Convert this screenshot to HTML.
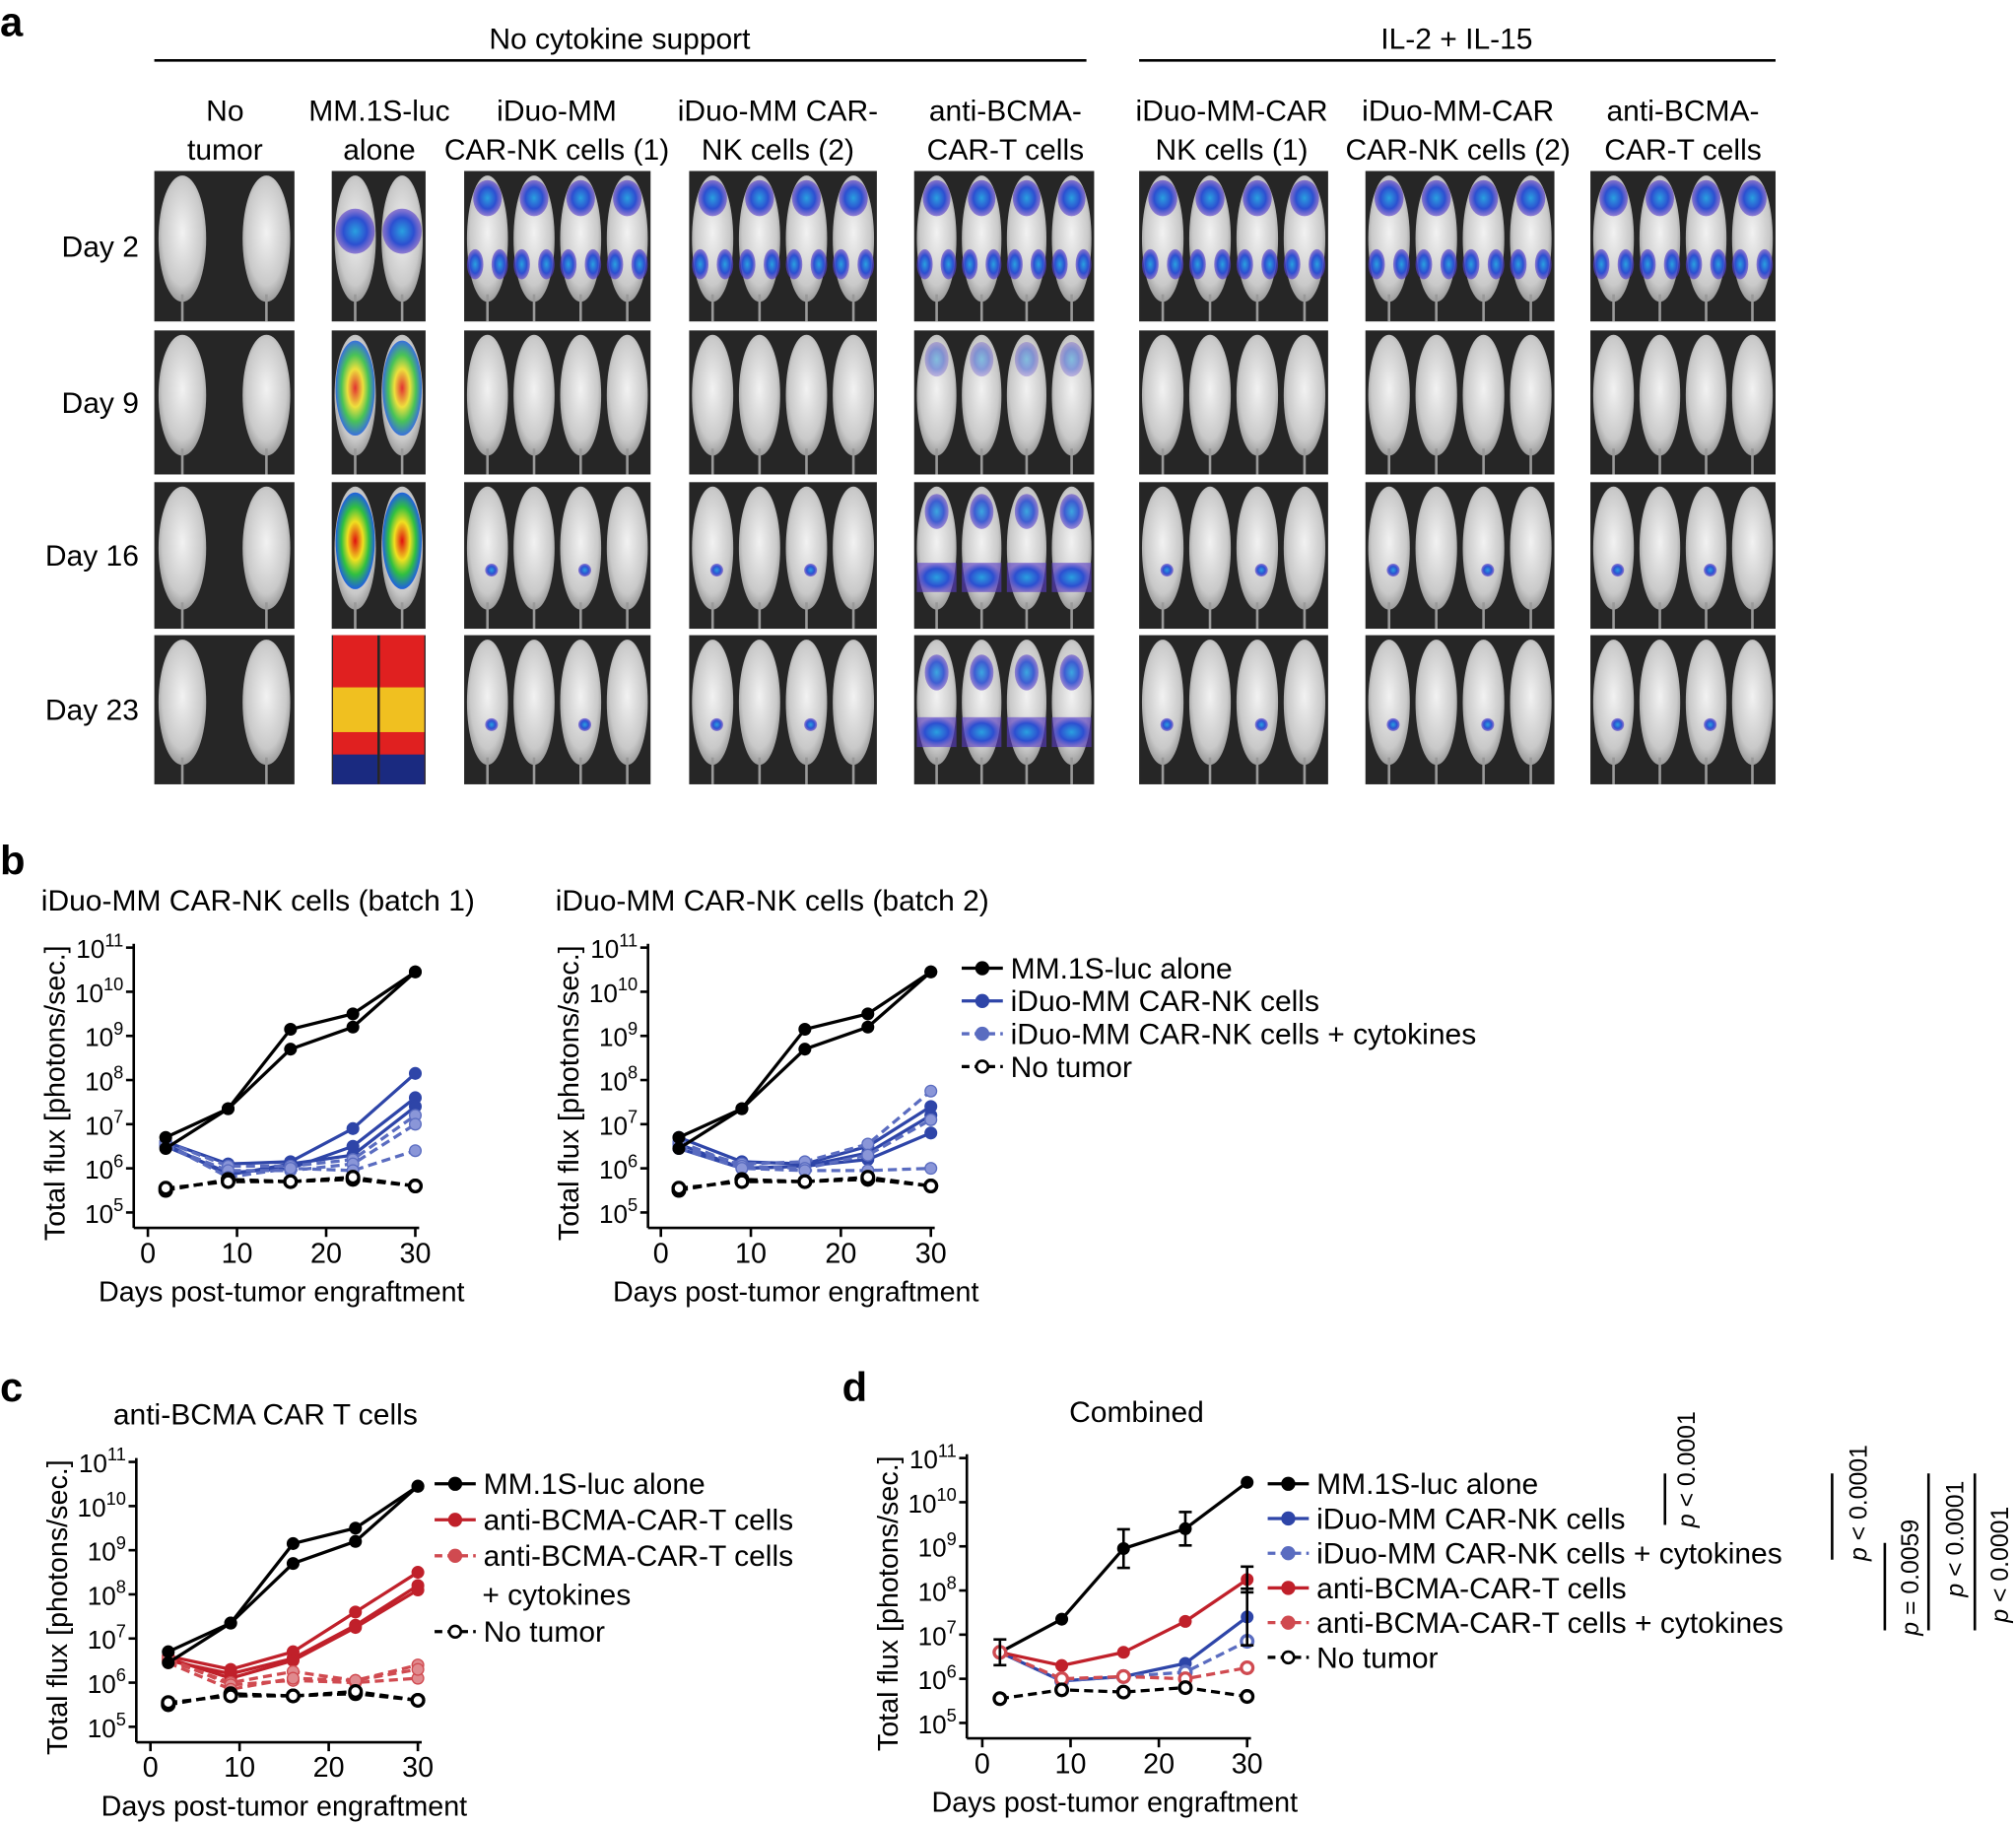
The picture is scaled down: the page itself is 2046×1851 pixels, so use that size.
<!DOCTYPE html>
<html><head><meta charset="utf-8"><style>
html,body{margin:0;padding:0;background:#fff}
svg{display:block}
text{font-family:"Liberation Sans",Arial,sans-serif;fill:#000}
</style></head><body>
<svg id="s" width="2046" height="1851" viewBox="0 0 1568 1418.6" xmlns="http://www.w3.org/2000/svg">
<defs>
<radialGradient id="mg" cx="50%" cy="45%" r="60%"><stop offset="0" stop-color="#f2f2f2"/><stop offset="0.7" stop-color="#c9c9c9"/><stop offset="1" stop-color="#8a8a8a"/></radialGradient>
<radialGradient id="bb" cx="50%" cy="50%" r="50%"><stop offset="0" stop-color="#2aa0e0"/><stop offset="0.6" stop-color="#2c4fd0"/><stop offset="1" stop-color="#5a3cc8" stop-opacity="0.6"/></radialGradient>
<radialGradient id="hot" cx="50%" cy="50%" r="50%"><stop offset="0" stop-color="#e01010"/><stop offset="0.4" stop-color="#f0e020"/><stop offset="0.7" stop-color="#30c040"/><stop offset="1" stop-color="#2060e0"/></radialGradient>
</defs>
<g id="g"></g>
</svg>
<script>
var g=document.getElementById('g'),h='';
function T(x,y,s,sz,anc,extra){h+='<text x="'+x+'" y="'+y+'" font-size="'+(sz||22)+'"'+(anc?' text-anchor="'+anc+'"':'')+(extra||'')+'>'+s+'</text>';}
function L(x1,y1,x2,y2,w,c,d){h+='<line x1="'+x1+'" y1="'+y1+'" x2="'+x2+'" y2="'+y2+'" stroke="'+(c||'#000')+'" stroke-width="'+(w||2)+'"'+(d?' stroke-dasharray="'+d+'"':'')+'/>';}
T(0,28,'a',32,null,' font-weight="bold"');
T(482,38,'No cytokine support',23,'middle');L(120,47,845,47,2);
T(1133,38,'IL-2 + IL-15',23,'middle');L(886,47,1381,47,2);
var cols=[[120,229,2,'No|tumor'],[258,331,2,'MM.1S-luc|alone'],[361,506,4,'iDuo-MM|CAR-NK cells (1)'],[536,682,4,'iDuo-MM CAR-|NK cells (2)'],[711,851,4,'anti-BCMA-|CAR-T cells'],[886,1033,4,'iDuo-MM-CAR|NK cells (1)'],[1062,1209,4,'iDuo-MM-CAR|CAR-NK cells (2)'],[1237,1381,4,'anti-BCMA-|CAR-T cells']];
var rows=[[133,250,'Day 2'],[257,369,'Day 9'],[375,489,'Day 16'],[494,610,'Day 23']];
var ccx=[175,295,433,605,782,958,1134,1309];
cols.forEach(function(c,i){var p=c[3].split('|');T(ccx[i],94,p[0],23,'middle');T(ccx[i],124,p[1],23,'middle');});
rows.forEach(function(r,ri){
 T(108,r[0]+(r[1]-r[0])/2+8,r[2],23,'end');
 cols.forEach(function(c,ci){
  var x0=c[0],x1=c[1],w=x1-x0,y0=r[0],y1=r[1],hh=y1-y0;
  h+='<rect x="'+x0+'" y="'+y0+'" width="'+w+'" height="'+hh+'" fill="#262626"/>';
  var n=c[2],mw=w/n;
  for(var k=0;k<n;k++){
   var cx=(ci==0?(k==0?x0+w*0.2:x0+w*0.8):x0+mw*(k+0.5));
   var bw=(ci==0?w*0.17:mw*0.44);
   h+='<ellipse cx="'+cx+'" cy="'+(y0+hh*0.45)+'" rx="'+bw+'" ry="'+hh*0.42+'" fill="url(#mg)"/>';
   L(cx,y0+hh*0.82,cx,y1,2,'#999');
   if(ci==0)continue;
   if(ci==1){
    var f=ri>=1?'url(#hot)':'url(#bb)';
    if(ri==3){h+='<rect x="'+(cx-mw/2+1)+'" y="'+y0+'" width="'+(mw-2)+'" height="'+hh+'" fill="#e02020"/>';h+='<rect x="'+(cx-mw/2+1)+'" y="'+(y0+hh*0.35)+'" width="'+(mw-2)+'" height="'+hh*0.3+'" fill="#f0c020"/>';h+='<rect x="'+(cx-mw/2+1)+'" y="'+(y0+hh*0.8)+'" width="'+(mw-2)+'" height="'+hh*0.2+'" fill="#1a2a80"/>';}
    else {h+='<ellipse cx="'+cx+'" cy="'+(y0+hh*0.4)+'" rx="'+bw*0.95+'" ry="'+hh*(ri==0?0.15:0.33)+'" fill="'+f+'" opacity="'+(ri==1?0.85:1)+'"/>';}
    continue;
   }
   if(ri==0){h+='<ellipse cx="'+cx+'" cy="'+(y0+hh*0.18)+'" rx="'+bw*0.7+'" ry="'+hh*0.12+'" fill="url(#bb)"/><ellipse cx="'+(cx-bw*0.6)+'" cy="'+(y0+hh*0.62)+'" rx="'+bw*0.4+'" ry="'+hh*0.1+'" fill="url(#bb)"/><ellipse cx="'+(cx+bw*0.6)+'" cy="'+(y0+hh*0.62)+'" rx="'+bw*0.4+'" ry="'+hh*0.1+'" fill="url(#bb)"/>';}
   else if(ci==4){h+='<ellipse cx="'+cx+'" cy="'+(y0+hh*(ri==3?0.25:0.2))+'" rx="'+bw*0.6+'" ry="'+hh*0.12+'" fill="url(#bb)" opacity="'+(ri==1?0.5:0.9)+'"/>';if(ri>=2)h+='<rect x="'+(cx-bw)+'" y="'+(y0+hh*0.55)+'" width="'+bw*2+'" height="'+hh*0.2+'" fill="url(#bb)"/>';}
   else if(ri>=2&&(k%2==0)){h+='<circle cx="'+(cx+bw*0.2)+'" cy="'+(y0+hh*0.6)+'" r="5" fill="url(#bb)"/>';}
  }
 });
});
function plot(o){
 var X=function(d){return o.x0+(o.x30-o.x0)*d/30},Y=function(v){return o.y5-(v-5)*(o.y5-o.y11)/6};
 var ax=o.ax,ay=o.y5+12;
 L(ax,o.y11-3,ax,ay,2);L(ax,ay,o.x30+3,ay,2);
 for(var e=5;e<=11;e++){L(ax-6,Y(e),ax,Y(e),2);h+='<text x="'+(ax-8)+'" y="'+(Y(e)+8)+'" font-size="20" text-anchor="end">10<tspan dy="-9" font-size="14">'+e+'</tspan></text>';}
 [0,10,20,30].forEach(function(d){L(X(d),ay,X(d),ay+7,2);T(X(d),ay+27,d,22,'middle');});
 T((o.x0+o.x30)/2,ay+57,'Days post-tumor engraftment',22,'middle');
 h+='<text transform="translate('+(o.ax-54)+','+(o.y5+22)+') rotate(-90)" font-size="22">Total flux [photons/sec.]</text>';
 var days=[2,9,16,23,30];
 o.s.forEach(function(s){
  var pts=s.v.map(function(v,i){return X(days[i])+','+Y(v)}).join(' ');
  h+='<polyline points="'+pts+'" fill="none" stroke="'+s.c+'" stroke-width="2.5"'+(s.d?' stroke-dasharray="7,4"':'')+'/>';
  s.v.forEach(function(v,i){h+='<circle cx="'+X(days[i])+'" cy="'+Y(v)+'" r="4.5" fill="'+(s.o?'#fff':(s.f||s.c))+'" stroke="'+s.c+'" stroke-width="'+(s.o?2.5:1)+'"/>';});
 });
}
var K='#000',B='#2e45a8',BL='#5a6cc0',R='#c0202a',RL='#d04a50';
var blk=[{c:K,v:[6.7,7.35,9.15,9.5,10.45]},{c:K,v:[6.45,7.35,8.7,9.2,10.45]},{c:K,d:1,o:1,v:[5.5,5.75,5.7,5.75,5.6]},{c:K,d:1,o:1,v:[5.55,5.7,5.7,5.8,5.6]}];
T(0,680,'b',32,null,' font-weight="bold"');
T(32,708,'iDuo-MM CAR-NK cells (batch 1)',23);
T(432,708,'iDuo-MM CAR-NK cells (batch 2)',23);
function bl(a){return a.map(function(v,i){return {c:i<3?B:BL,d:i>=3,o:0,f:i<3?B:'#8a96d8',v:v}});}
plot({x0:115,x30:323,y11:737,y5:943,ax:104,s:bl([[6.6,6.1,6.15,6.9,8.15],[6.5,5.9,6.0,6.5,7.6],[6.55,5.85,6.1,6.3,7.4],[6.6,6.05,6.05,6.2,7.2],[6.5,5.95,5.95,6.1,7.0],[6.55,5.8,6.0,5.95,6.4]]).concat(blk)});
plot({x0:514,x30:724,y11:737,y5:943,ax:504,s:bl([[6.7,6.15,6.1,6.5,7.4],[6.55,6.0,6.05,6.35,7.2],[6.45,6.0,6.05,6.2,6.8],[6.5,6.1,6.15,6.55,7.75],[6.6,6.05,6.0,6.3,7.1],[6.45,6.0,5.95,5.95,6.0]]).concat(blk)});
function leg(x,y,items){items.forEach(function(it,i){var yy=y+i*it[3];L(x,yy,x+32,yy,2.5,it[1],it[2]?'6,4':null);h+='<circle cx="'+(x+16)+'" cy="'+yy+'" r="4.5" fill="'+(it[4]?'#fff':it[1])+'" stroke="'+it[1]+'" stroke-width="2"/>';T(x+38,yy+8,it[0],23);});}
leg(748,753,[['MM.1S-luc alone',K,0,25.5],['iDuo-MM CAR-NK cells',B,0,25.5],['iDuo-MM CAR-NK cells + cytokines',BL,1,25.5],['No tumor',K,1,25.5,1]]);
T(0,1090,'c',32,null,' font-weight="bold"');T(88,1108,'anti-BCMA CAR T cells',23);
function rl(a){return a.map(function(v,i){return {c:i<3?R:RL,d:i>=3,o:0,f:i<3?R:'#e08a8e',v:v}});}
plot({x0:117,x30:325,y11:1137,y5:1343,ax:106,s:rl([[6.6,6.3,6.7,7.6,8.5],[6.5,6.2,6.55,7.3,8.2],[6.55,6.1,6.5,7.25,8.1],[6.5,6.0,6.25,6.05,6.4],[6.55,5.95,6.05,6.0,6.1],[6.45,5.85,6.1,6.05,6.3]]).concat(blk)});
leg(338,1154,[['MM.1S-luc alone',K,0,28],['anti-BCMA-CAR-T cells',R,0,28],['anti-BCMA-CAR-T cells',RL,1,28]]);
T(375,1248,'+ cytokines',23);
leg(338,1269,[['No tumor',K,1,28,1]]);
T(655,1090,'d',32,null,' font-weight="bold"');T(884,1106,'Combined',23,'middle');
plot({x0:764,x30:970,y11:1134,y5:1340,ax:752,s:[{c:K,v:[6.6,7.35,8.95,9.4,10.45]},{c:B,v:[6.6,5.95,6.05,6.35,7.4]},{c:BL,d:1,o:1,v:[6.6,5.95,6.05,6.15,6.85]},{c:R,v:[6.6,6.3,6.6,7.3,8.25]},{c:RL,d:1,o:1,v:[6.6,6.0,6.05,6.0,6.25]},{c:K,d:1,o:1,v:[5.55,5.75,5.7,5.8,5.6]}]});
[[764+206*16/30,1340-(8.95-5)*34.33,15],[764+206*23/30,1340-(9.4-5)*34.33,13],[970,1340-(8.25-5)*34.33,10],[970,1340-(7.4-5)*34.33,22],[764+206*2/30,1340-1.6*34.33,10]].forEach(function(e){L(e[0],e[1]-e[2],e[0],e[1]+e[2],2);L(e[0]-5,e[1]-e[2],e[0]+5,e[1]-e[2],2);L(e[0]-5,e[1]+e[2],e[0]+5,e[1]+e[2],2);});
leg(986,1154,[['MM.1S-luc alone',K,0,27],['iDuo-MM CAR-NK cells',B,0,27],['iDuo-MM CAR-NK cells + cytokines',BL,1,27],['anti-BCMA-CAR-T cells',R,0,27],['anti-BCMA-CAR-T cells + cytokines',RL,1,27],['No tumor',K,1,27,1]]);
L(1295,1146,1295,1186,2);h+='<text transform="translate(1318,1188) rotate(-90)" font-size="19"><tspan font-style="italic">p</tspan> &lt; 0.0001</text>';
L(1425,1146,1425,1213,2);h+='<text transform="translate(1452,1214) rotate(-90)" font-size="19"><tspan font-style="italic">p</tspan> &lt; 0.0001</text>';
L(1466,1200,1466,1268,2);h+='<text transform="translate(1492,1272) rotate(-90)" font-size="19"><tspan font-style="italic">p</tspan> = 0.0059</text>';
L(1500,1146,1500,1268,2);h+='<text transform="translate(1527,1242) rotate(-90)" font-size="19"><tspan font-style="italic">p</tspan> &lt; 0.0001</text>';
L(1536,1146,1536,1268,2);h+='<text transform="translate(1562,1262) rotate(-90)" font-size="19"><tspan font-style="italic">p</tspan> &lt; 0.0001</text>';
g.innerHTML=h;
</script>
</body></html>
